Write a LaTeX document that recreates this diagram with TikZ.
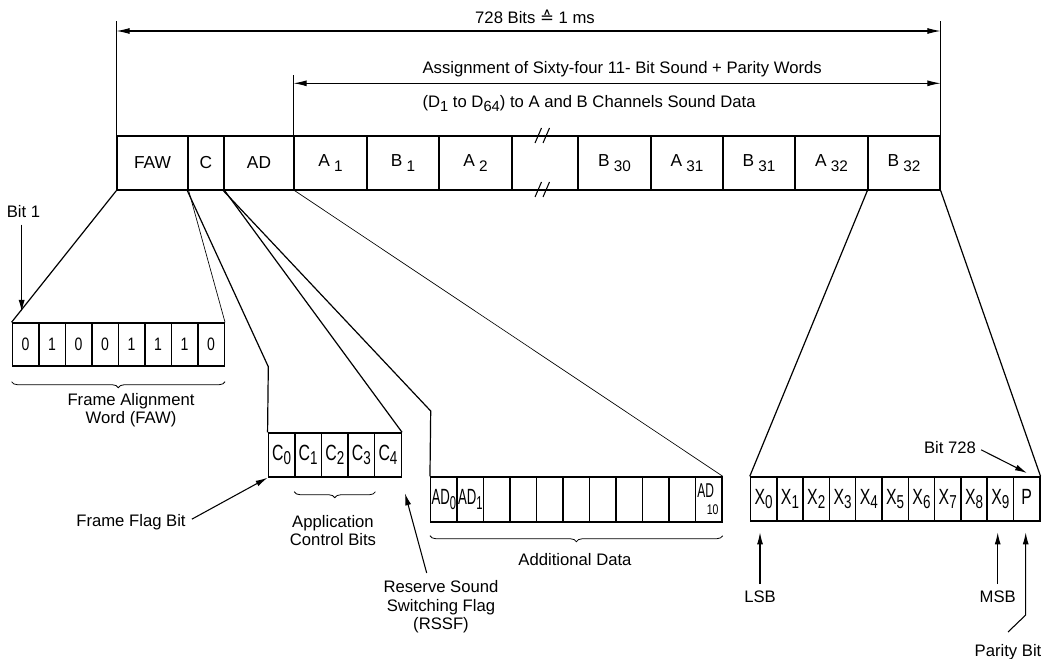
\documentclass[tikz,border=0pt]{standalone}
\usepackage{fontspec}
\usepackage{graphicx}
\setmainfont{Liberation Sans}
\newfontfamily\dvfont{DejaVu Sans}
\usetikzlibrary{arrows.meta,decorations.pathreplacing,calc}
\newcommand\mainsub[2]{#1\hspace{3pt}\raisebox{-3.6pt}{\fontsize{11.5}{11.5}\selectfont #2}}
\newcommand\bitlab[3][0.72]{\scalebox{#1}[1]{\fontsize{16.5}{16.5}\selectfont #2\raisebox{-3.2pt}{\fontsize{14}{14}\selectfont #3}}}
\newcommand\fawdigit[1]{\scalebox{0.78}[1]{\fontsize{13.5}{13.5}\selectfont #1}}
\newcommand\lowsub[1]{\raisebox{-3.5pt}{\fontsize{11}{11}\selectfont #1}}
\begin{document}
\begin{tikzpicture}[x=0.75pt,y=-0.75pt,
  box/.style={draw, line width=1pt, inner sep=0pt, anchor=center,
    minimum height={54*0.75pt}, font=\fontsize{13}{14}\selectfont},
  bitbox/.style={draw, line width=1.1pt, inner sep=0pt, anchor=center},
  fan/.style={line width=0.9pt},
  thinfan/.style={line width=0.5pt},
  arr/.style={line width=0.8pt, -{Latex[length=9pt,width=4.5pt]}},
  dim/.style={line width=0.8pt, {Latex[length=10pt,width=4.5pt]}-{Latex[length=10pt,width=4.5pt]}},
  lbl/.style={font=\fontsize{12.5}{13.8}\selectfont, inner sep=1pt, align=center},
  brc/.style={decorate, decoration={brace, mirror, amplitude=4.5pt}, line width=0.6pt}
]
\useasboundingbox (0,0) rectangle (1042,659);

% ---- main frame row
\foreach \n/\a/\b/\t in {faw/117/188/FAW, c/188/224/C, ad/224/294/AD,
    a1/294/367/{\mainsub{A}{1}}, b1/367/439/{\mainsub{B}{1}}, a2/439/512/{\mainsub{A}{2}},
    gap/512/578/{}, b30/578/651/{\mainsub{B}{30}}, a31/651/723/{\mainsub{A}{31}},
    b31/723/795/{\mainsub{B}{31}}, a32/795/868/{\mainsub{A}{32}}, b32/868/940/{\mainsub{B}{32}}}
  \node[box, minimum width={(\b-\a)*0.75pt}] (\n) at ({(\a+\b)/2},163) {\t};

% break marks
\draw[line width=0.8pt] (535,143) -- (541.5,128) (543,143) -- (549.5,128);
\draw[line width=0.8pt] (535,197) -- (541.5,182) (543,197) -- (549.5,182);

% ---- dimension arrows
\coordinate (tick1) at (0,21);
\coordinate (dim1) at (0,31);
\coordinate (tick2) at (0,75);
\coordinate (dim2) at (0,83.3);
\draw[line width=1pt] (faw.north west) -- (faw.north west |- tick1);
\draw[line width=1pt] (b32.north east) -- (b32.north east |- tick1);
\draw[line width=1pt] (a1.north west) -- (a1.north west |- tick2);
\draw[dim] (faw.north west |- dim1) -- (b32.north east |- dim1);
\draw[dim] (a1.north west |- dim2) -- (b32.north east |- dim2);
\node[lbl] (toplbl) at (535,17) {728 Bits {\dvfont ≙} 1 ms};
\node[lbl, anchor=west] (assign1) at (421,69.5) {Assignment of Sixty-four 11- Bit Sound + Parity Words};
\node[lbl, anchor=west] (assign2) at (421,103.5) {(D\lowsub{1} to D\lowsub{64}) to A and B Channels Sound Data};

% ---- FAW bits
\foreach \v [count=\i from 0] in {0,1,0,0,1,1,1,0}
  \node[bitbox, minimum width={26.5*0.75pt}, minimum height={43*0.75pt}]
    (fb\i) at ({12.3+26.5*(\i+0.5)},344.5) {\fawdigit{\v}};

% ---- C bits
\foreach \i in {0,...,4}
  \node[bitbox, minimum width={26.6*0.75pt}, minimum height={44*0.75pt}]
    (cb\i) at ({268.3+26.6*(\i+0.5)},455) {\bitlab{C}{\i}};

% ---- AD bits
\foreach \t [count=\i from 0] in {{\bitlab[0.6]{AD}{0}},{\bitlab[0.6]{AD}{1}},{},{},{},{},{},{},{},{},{}}
  \node[bitbox, minimum width={26.48*0.75pt}, minimum height={45*0.75pt}]
    (adb\i) at ({430.7+26.48*(\i+0.5)},499.5) {\t};
\node[inner sep=0pt] (ad10a) at ($(adb10.center)+(-3,-9)$)
  {\scalebox{0.6}[1]{\fontsize{15}{15}\selectfont AD}};
\node[inner sep=0pt] (ad10b) at ($(adb10.center)+(4,10.5)$)
  {\scalebox{0.75}[1]{\fontsize{10.5}{10.5}\selectfont 10}};

% ---- X bits
\foreach \t [count=\i from 0] in {{\bitlab{X}{0}},{\bitlab{X}{1}},{\bitlab{X}{2}},{\bitlab{X}{3}},
    {\bitlab{X}{4}},{\bitlab{X}{5}},{\bitlab{X}{6}},{\bitlab{X}{7}},{\bitlab{X}{8}},{\bitlab{X}{9}},
    {\bitlab{P}{}}}
  \node[bitbox, minimum width={26.3*0.75pt}, minimum height={44*0.75pt}]
    (x\i) at ({750.5+26.3*(\i+0.5)},499) {\t};

% ---- fan lines
\coordinate (cbend) at (268.3,366.7);
\coordinate (adbend) at (430.7,411);
\draw[fan] (faw.south west) -- (fb0.north west);
\draw[thinfan] (faw.south east) -- (fb7.north east);
\draw[fan] (c.south west) -- (cbend) -- (cb0.north west);
\draw[fan] (c.south east) -- (cb4.north east);
\draw[fan] (ad.south west) -- (adbend) -- (adb0.north west);
\draw[thinfan] (ad.south east) -- (adb10.north east);
\draw[fan] (b32.south west) -- (x0.north west);
\draw[fan] (b32.south east) -- (x10.north east);

% ---- braces and their labels
\draw[brc] (fb0.south west) ++(0,15) coordinate (fbrL) -- (fbrL -| fb7.south east);
\node[lbl] (fawlbl) at (131,410) {Frame Alignment\\Word (FAW)};
\draw[brc] (cb1.south west) ++(0,14) coordinate (cbrL) -- (cbrL -| cb3.south east);
\node[lbl] (acblbl) at (333,530.5) {Application\\Control Bits};
\draw[brc] (adb0.south west) ++(0,13) coordinate (abrL) -- (abrL -| adb10.south east);
\node[lbl] (adlbl) at (575,560) {Additional Data};

% ---- annotations
\node[lbl] (bit1) at (23.5,212) {Bit 1};
\coordinate (bit1tip) at (21.7,312);
\draw[arr] (bit1.south -| bit1tip) ++(0,5) -- (bit1tip);

\node[lbl] (ffb) at (131,521.7) {Frame Flag Bit};
\draw[arr, shorten <=4pt] (ffb.east) -- (cb0.south west);

\node[lbl] (rssf) at (441,607) {Reserve Sound\\Switching Flag\\(RSSF)};
\coordinate (rssftail) at (426.7,573);
\coordinate (rssftip) at (405,493.3);
\draw[arr] (rssftail) -- (rssftip);

\node[lbl] (bit728) at (950,448) {Bit 728};
\coordinate (b728tip) at (1027,473);
\draw[arr, shorten <=3pt] (bit728.east) -- (b728tip);

\node[lbl] (lsb) at (760,597) {LSB};
\draw[arr, shorten <=4pt, shorten >=8pt] (lsb.north) -- (lsb.north |- x0.south);
\node[lbl] (msb) at (997.7,597) {MSB};
\draw[arr, shorten <=4pt, shorten >=8pt] (msb.north) -- (msb.north |- x9.south);

\node[lbl] (parity) at (1008,652) {Parity Bit};
\coordinate (ptail) at (1008,632);
\coordinate (pbend) at (1025.7,615);
\draw[arr, shorten >=8pt] (ptail) -- (pbend) -- (pbend |- x10.south);
\end{tikzpicture}
\end{document}
